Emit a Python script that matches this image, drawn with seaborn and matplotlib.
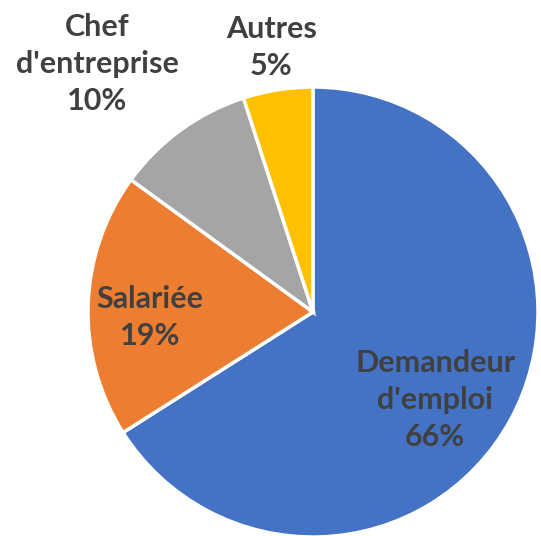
import numpy as np
import matplotlib
matplotlib.use("Agg")
import matplotlib.pyplot as plt
import seaborn as sns

# Data
categories = ["Demandeur\nd'emploi", "Salariée", "Chef\nd'entreprise", "Autres"]
shares = [66, 19, 10, 5]
colors = ["#4472C4", "#ED7D31", "#A5A5A5", "#FFC000"]
# label placement: (radius, angle offset in degrees) relative to slice mid-angle
label_place = [(0.67, -7), (0.724, 3.6), (1.46, 5), (1.19, 0)]

sns.set_style("white")
plt.rcParams["font.family"] = ["Lato", "DejaVu Sans"]

fig = plt.figure(figsize=(5.41, 5.36), dpi=100)
ax = fig.add_axes([88 / 541, -1 / 536, 450 / 541, 450 / 536])

wedges, _ = ax.pie(
    shares, colors=colors, startangle=90, counterclock=False, radius=1,
    wedgeprops=dict(edgecolor="white", linewidth=2.5),
)
ax.set_xlim(-1, 1)
ax.set_ylim(-1, 1)
ax.set_aspect("equal")
ax.axis("off")

for w, cat, val, (r, off) in zip(wedges, categories, shares, label_place):
    mid = np.deg2rad((w.theta1 + w.theta2) / 2 + off)
    ax.text(r * np.cos(mid), r * np.sin(mid), f"{cat}\n{val}%",
            ha="center", va="center", fontsize=22, fontweight="bold",
            color="#404040", linespacing=1.4, clip_on=False)

fig.savefig("out.png", dpi=100)
